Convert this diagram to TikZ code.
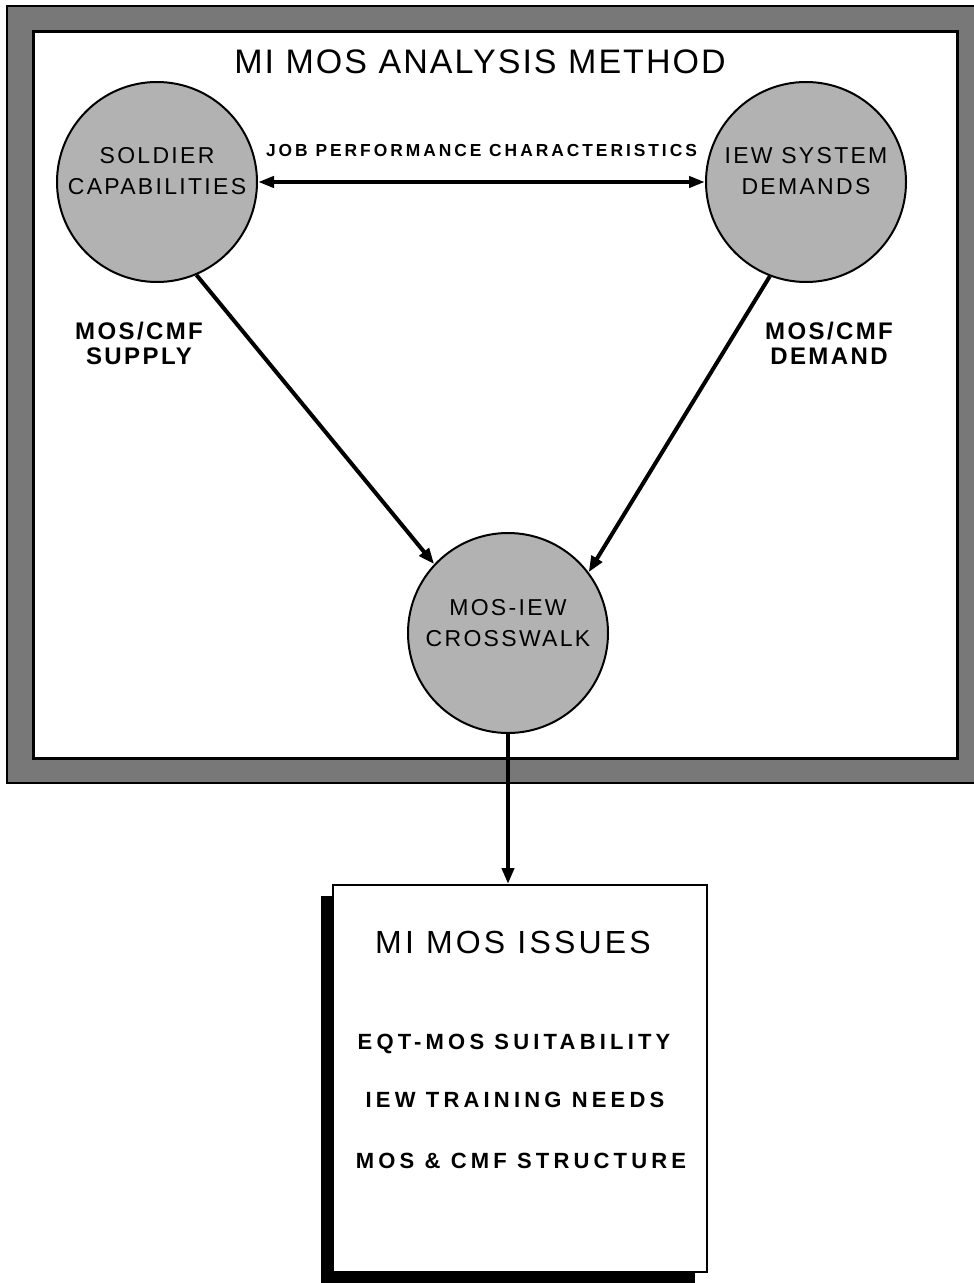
\documentclass[tikz,border=0pt]{standalone}
\usepackage{fontspec}
\setmainfont{Liberation Sans}
\usetikzlibrary{arrows.meta,shadows}

\definecolor{framegray}{gray}{0.47}
\definecolor{bubblegray}{gray}{0.7}

\begin{document}
\begin{tikzpicture}[
        x = 0.5pt, y = -0.5pt,
        semithick % line style
    ]
    \tikzstyle{bubble}=[
        draw = black,
        line width = 1pt,
        fill = bubblegray,
        minimum size = 100pt,
        inner sep = 0pt,
        circle
    ]

    \tikzstyle{bubble text}=[
        align = center,
        font = \fontsize{11.5}{15.5}\selectfont\addfontfeature{LetterSpace=10}
    ]

    \tikzstyle{side text}=[
        align = center,
        font = \bfseries\fontsize{12}{12.5}\selectfont\addfontfeature{LetterSpace=10}
    ]

    \tikzstyle{issue text}=[
        anchor = base,
        font = \bfseries\fontsize{11}{13}\selectfont\addfontfeature{LetterSpace=19}
    ]

    \tikzstyle{issue box}=[
        draw = black,
        line width = 1pt,
        fill = white,
        minimum width = 187pt,
        minimum height = 193.5pt,
        rectangle,
        drop shadow = {shadow xshift=-6pt, shadow yshift=-5.5pt, fill=black, opacity=1}
    ]

    \tikzstyle{link}=[
        line width = 2pt,
        -{Triangle[length=8pt,width=6pt]}
    ]

    \useasboundingbox (0,0) rectangle (973,1283);

    % shaded frame
    \draw[fill=framegray, line width=1pt] (7,6) rectangle (985,783);
    \draw[fill=white, line width=1.5pt] (33,32) rectangle (957,758);

    \node[anchor=base, font=\fontsize{17}{20}\selectfont\addfontfeature{LetterSpace=6}]
        (title) at (480,74) {MI MOS ANALYSIS METHOD};

	\node[bubble] (sold)  at (157,182) {};
	\node[bubble] (iew)   at (806,182) {};
	\node[bubble] (cross) at (508,633) {};

	\node[bubble text] (soldtext)  at (157,171)   {SOLDIER\\CAPABILITIES};
	\node[bubble text] (iewtext)   at (806,171)   {IEW SYSTEM\\DEMANDS};
	\node[bubble text] (crosstext) at (508,623.5) {MOS-IEW\\CROSSWALK};

	\node[side text] (supply) at (139,343.5) {MOS/CMF\\SUPPLY};
	\node[side text] (demand) at (829,343.5) {MOS/CMF\\DEMAND};

	\node[issue box] (issues) at (520,1078.5) {};
	\node[anchor=base, font=\fontsize{16}{19}\selectfont\addfontfeature{LetterSpace=10}]
	    (issuetitle) at (513,953) {MI MOS ISSUES};
	\node[issue text] (suit)  at (514,1049) {EQT-MOS SUITABILITY};
	\node[issue text] (train) at (515,1107) {IEW TRAINING NEEDS};
	\node[issue text] (struc) at (521,1168) {MOS \& CMF STRUCTURE};

	\coordinate (drop) at (cross |- issues.north);

	\path[link, {Triangle[length=8pt,width=5.5pt]}-{Triangle[length=8pt,width=5.5pt]}]
	    (sold) edge node[above=8.5pt, font=\bfseries\fontsize{8.7}{10}\selectfont\addfontfeature{LetterSpace=17}]
	    {JOB PERFORMANCE CHARACTERISTICS} (iew);
	\path[link] (sold.-67) edge (cross.137);
	\path[link] (iew.-111) edge (cross.37);
	\path[link] (cross) edge (drop);

\end{tikzpicture}
\end{document}
